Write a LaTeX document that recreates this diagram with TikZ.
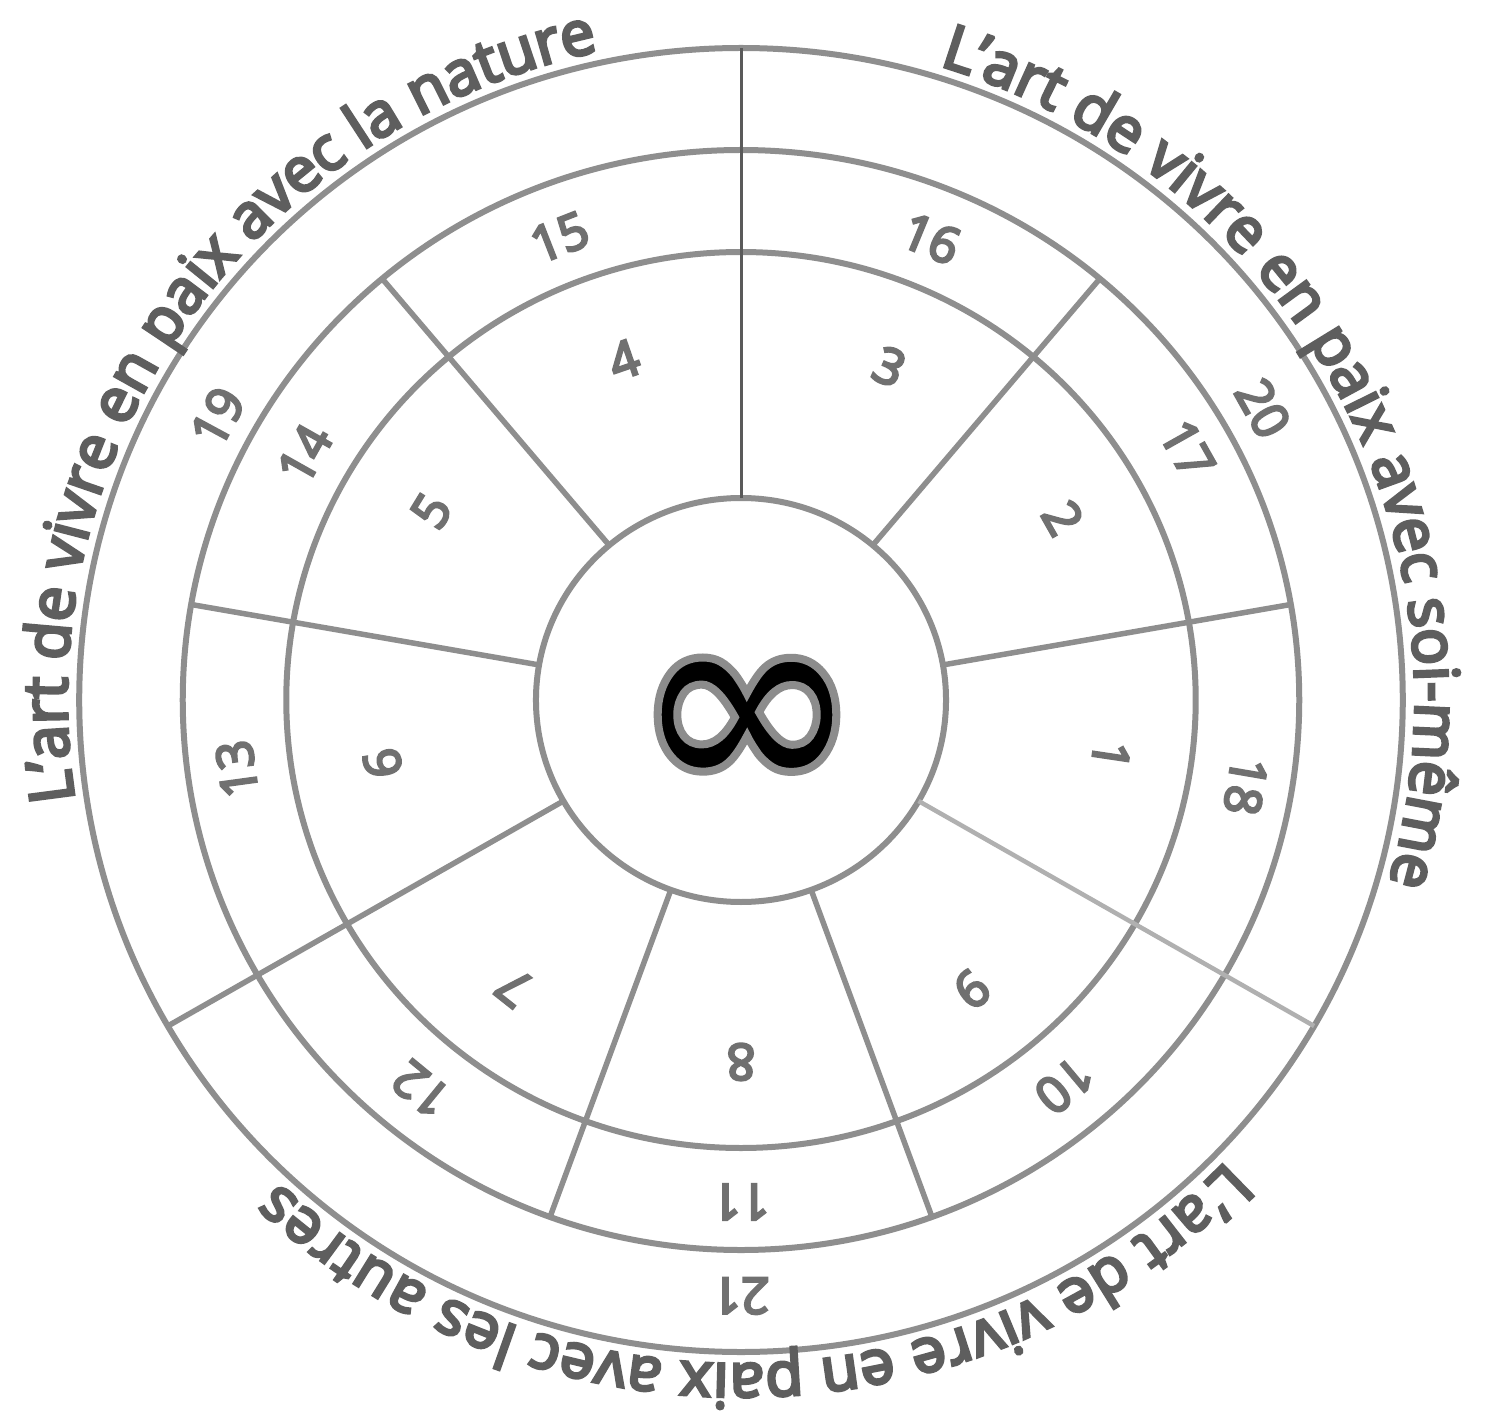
\documentclass[tikz,border=0pt]{standalone}
\usepackage{fontspec}
\setmainfont{Open Sans}
\newfontfamily\symfont{DejaVu Sans}
\usetikzlibrary{decorations.text}
\definecolor{linegray}{HTML}{8E8E8E}
\definecolor{darkline}{HTML}{5A5A5A}
\definecolor{lightline}{HTML}{B0B0B0}
\definecolor{textgray}{HTML}{5E5E5E}
\definecolor{numgray}{HTML}{707070}
% text render mode 2 (fill + stroke) thickens the letters like the pencil strokes of the reference
\newcommand\curvefont{\fontsize{61.5}{70}\selectfont\special{pdf:literal direct 2 Tr 3.2 w}}
\newcommand\numfont{\fontsize{50}{50}\selectfont\special{pdf:literal direct 2 Tr 2.6 w}}
\newcommand\inffont{\symfont\bfseries\fontsize{275}{275}\selectfont}
\newcommand\halostart{\special{pdf:literal direct 2 Tr 8 w 0.55 G}}
\newcommand\haloend{\special{pdf:literal direct 0 Tr 0.39848 w}}
\begin{document}
\begin{tikzpicture}[x=1pt,y=1pt,
  ring/.style={draw=linegray, line width=6pt},
  spoke/.style={draw=linegray, line width=5.5pt},
  mainspoke/.style={draw=darkline, line width=3pt},
  lightspoke/.style={draw=lightline, line width=4.5pt},
  num/.style={font=\numfont, text=numgray, inner sep=0pt},
  curve/.style={decorate, decoration={text along path, text align=fit to path, text color=textgray}}
]
\useasboundingbox (-741,-719) rectangle (749,700);
\fill[white] (-741,-719) rectangle (749,700);
\begin{scope}[xscale=1.015]
  % rings
  \draw[ring] (0,0) circle[radius=202];
  \draw[ring] (0,0) circle[radius=448];
  \draw[ring] (0,0) circle[radius=550];
  \draw[ring] (0,0) circle[radius=652];
  % spokes of the inner ring
  \foreach \a in {130,170,250,290,10,50}{
    \draw[spoke] (\a:202) -- (\a:550);
  }
  \draw[spoke] (210:202) -- (210:652);
  \draw[lightspoke] (330:202) -- (330:652);
  \draw[mainspoke] (90:202) -- (90:652);
  % curved titles
  \path[curve, decoration={text={|\curvefont|L'art de vivre en paix avec la nature}}]
    (188.7:664) arc[start angle=188.7, end angle=102.3, radius=664];
  \path[curve, decoration={text={|\curvefont|L'art de vivre en paix avec soi-même}}]
    (72.9:664) arc[start angle=72.9, end angle=-15.9, radius=664];
  \path[curve, decoration={text={|\curvefont|L'art de vivre en paix avec les autres}}]
    (-43.9:664) arc[start angle=-43.9, end angle=-133.3, radius=664];
\end{scope}
% numbers, inner ring
\node[num, rotate=19]     (n4) at (109:360)  {4};
\node[num, rotate=-24]    (n3) at (66:365)   {3};
\node[num, rotate=-60.5]  (n2) at (29.5:370) {2};
\node[num, rotate=-98.5]  (n1) at (-8.5:374) {1};
\node[num, rotate=-141.4] (n9) at (-51.4:370) {9};
\node[num, rotate=180]    (n8) at (-90:362)  {8};
\node[num, rotate=141.7]  (n7) at (231.7:366) {7};
\node[num, rotate=100]    (n6) at (190:364)  {6};
\node[num, rotate=58.6]   (n5) at (148.6:363) {5};
% numbers, middle ring
\node[num, rotate=21.4]   (n15) at (111.4:497) {15};
\node[num, rotate=-22.4]  (n16) at (67.6:499)  {16};
\node[num, rotate=-60.7]  (n17) at (29.3:512)  {17};
\node[num, rotate=-99.7]  (n18) at (-9.7:512)  {18};
\node[num, rotate=-140]   (n10) at (-50:503)   {10};
\node[num, rotate=180]    (n11) at (-90:502)   {11};
\node[num, rotate=140.6]  (n12) at (230.6:504) {12};
\node[num, rotate=97.8]   (n13) at (187.8:509) {13};
\node[num, rotate=60.6]   (n14) at (150.6:501) {14};
% numbers, outer ring
\node[num, rotate=61.6]   (n19) at (151.6:595) {19};
\node[num, rotate=-60.8]  (n20) at (29.2:598)  {20};
\node[num, rotate=180]    (n21) at (-90:596)   {21};
% centre symbol
\node[inner sep=0pt, text=black] (inf) at (6,-27) {\inffont\halostart ∞\haloend};
\end{tikzpicture}
\end{document}
